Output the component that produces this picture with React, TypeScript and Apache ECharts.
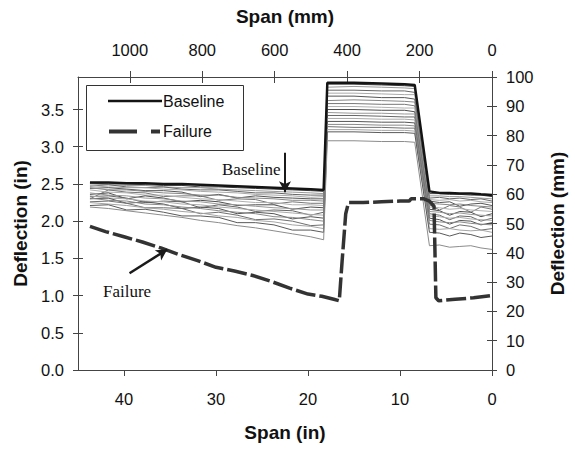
import React, { useEffect, useRef } from "react";
import * as echarts from "echarts";

// Span positions (inches) shared by the baseline and the individual runs
const X_IN = [43.7, 41.7, 39.7, 37.7, 35.7, 33.7, 31.7, 29.7, 27.7, 25.7, 23.7, 21.7, 19.7, 18.3, 17.9, 15, 12, 9.5, 8.4, 6.8, 5.7, 4.6, 3.5, 2.3, 1.2, 0];

// Deflection (inches)
const BASELINE = [2.52, 2.52, 2.51, 2.51, 2.50, 2.50, 2.49, 2.48, 2.47, 2.46, 2.45, 2.44, 2.43, 2.42, 3.86, 3.86, 3.85, 3.84, 3.83, 2.40, 2.38, 2.38, 2.37, 2.37, 2.36, 2.35];

const RUN_01 = [2.51, 2.50, 2.50, 2.49, 2.48, 2.48, 2.46, 2.46, 2.45, 2.44, 2.43, 2.42, 2.41, 2.40, 3.84, 3.84, 3.83, 3.82, 3.81, 2.37, 2.37, 2.36, 2.36, 2.35, 2.35, 2.33];
const RUN_02 = [2.50, 2.49, 2.48, 2.48, 2.46, 2.45, 2.45, 2.43, 2.42, 2.41, 2.40, 2.39, 2.38, 2.37, 3.80, 3.81, 3.80, 3.79, 3.78, 2.34, 2.34, 2.33, 2.33, 2.32, 2.31, 2.30];
const RUN_03 = [2.47, 2.49, 2.46, 2.45, 2.46, 2.43, 2.42, 2.42, 2.40, 2.38, 2.38, 2.36, 2.35, 2.35, 3.76, 3.76, 3.75, 3.75, 3.73, 2.31, 2.32, 2.30, 2.31, 2.29, 2.30, 2.27];
const RUN_04 = [2.48, 2.46, 2.45, 2.45, 2.43, 2.42, 2.40, 2.39, 2.38, 2.36, 2.35, 2.34, 2.32, 2.33, 3.72, 3.72, 3.71, 3.70, 3.70, 2.29, 2.28, 2.29, 2.27, 2.28, 2.26, 2.25];
const RUN_05 = [2.44, 2.45, 2.43, 2.41, 2.41, 2.39, 2.33, 2.36, 2.31, 2.34, 2.32, 2.31, 2.30, 2.30, 3.68, 3.68, 3.66, 3.66, 3.64, 2.27, 2.25, 2.26, 2.20, 2.23, 2.24, 2.21];
const RUN_06 = [2.45, 2.42, 2.42, 2.40, 2.38, 2.37, 2.35, 2.35, 2.32, 2.31, 2.30, 2.28, 2.28, 2.27, 3.62, 3.63, 3.62, 3.61, 3.60, 2.24, 2.23, 2.22, 2.23, 2.21, 2.20, 2.19];
const RUN_07 = [2.30, 2.42, 2.39, 2.38, 2.33, 2.34, 2.34, 2.28, 2.30, 2.29, 2.23, 2.26, 2.24, 2.24, 3.58, 3.58, 3.57, 3.57, 3.55, 2.22, 2.15, 2.21, 2.19, 2.12, 2.19, 2.16];
const RUN_08 = [2.42, 2.39, 2.38, 2.35, 2.35, 2.32, 2.30, 2.29, 2.27, 2.25, 2.25, 2.22, 2.22, 2.21, 3.54, 3.54, 3.53, 3.52, 3.52, 2.19, 2.18, 2.16, 2.17, 2.15, 2.14, 2.13];
const RUN_09 = [2.36, 2.38, 2.30, 2.34, 2.31, 2.26, 2.28, 2.26, 2.21, 2.22, 2.22, 2.16, 2.19, 2.18, 3.50, 3.50, 3.49, 3.49, 3.47, 2.16, 2.14, 2.08, 2.13, 2.12, 2.06, 2.10];
const RUN_10 = [2.38, 2.35, 2.34, 2.31, 2.30, 2.27, 2.26, 2.23, 2.22, 2.20, 2.18, 2.17, 2.15, 2.15, 3.46, 3.45, 3.45, 3.44, 3.44, 2.13, 2.12, 2.10, 2.11, 2.09, 2.08, 2.07];
const RUN_11 = [2.33, 2.34, 2.31, 2.25, 2.27, 2.26, 2.18, 2.22, 2.19, 2.13, 2.15, 2.14, 2.08, 2.12, 3.42, 3.42, 3.41, 3.40, 3.40, 2.10, 2.08, 2.02, 2.07, 2.06, 2.00, 2.04];
const RUN_12 = [2.34, 2.31, 2.30, 2.27, 2.26, 2.23, 2.22, 2.19, 2.17, 2.15, 2.13, 2.11, 2.09, 2.08, 3.38, 3.38, 3.37, 3.37, 3.36, 2.07, 2.06, 2.04, 2.05, 2.03, 2.02, 2.01];
const RUN_13 = [2.30, 2.31, 2.24, 2.26, 2.23, 2.17, 2.19, 2.17, 2.10, 2.12, 2.10, 2.03, 2.06, 2.04, 3.34, 3.34, 3.33, 3.33, 3.32, 2.04, 2.02, 1.96, 2.01, 2.00, 1.95, 1.98];
const RUN_14 = [2.31, 2.28, 2.27, 2.23, 2.22, 2.19, 2.17, 2.14, 2.12, 2.10, 2.06, 2.05, 2.02, 2.00, 3.30, 3.30, 3.29, 3.29, 3.28, 2.01, 1.99, 1.98, 1.99, 1.97, 1.96, 1.95];
const RUN_15 = [2.26, 2.27, 2.24, 2.18, 2.18, 2.17, 2.10, 2.12, 2.08, 2.02, 2.03, 2.00, 1.94, 1.95, 3.27, 3.26, 3.26, 3.25, 3.25, 1.96, 1.95, 1.90, 1.95, 1.93, 1.88, 1.90];
const RUN_16 = [2.25, 2.23, 2.21, 2.18, 2.16, 2.13, 2.11, 2.07, 2.05, 2.01, 1.99, 1.95, 1.93, 1.90, 3.23, 3.23, 3.22, 3.22, 3.21, 1.90, 1.89, 1.90, 1.88, 1.87, 1.88, 1.85];
const RUN_17 = [2.21, 2.22, 2.15, 2.16, 2.12, 2.07, 2.07, 2.05, 1.98, 1.98, 1.95, 1.88, 1.88, 1.85, 3.20, 3.20, 3.19, 3.19, 3.18, 1.85, 1.84, 1.80, 1.84, 1.82, 1.78, 1.80];
const RUN_18 = [2.19, 2.17, 2.14, 2.11, 2.08, 2.05, 2.01, 1.98, 1.94, 1.91, 1.87, 1.83, 1.79, 1.75, 3.08, 3.08, 3.07, 3.07, 3.06, 1.67, 1.68, 1.65, 1.66, 1.67, 1.64, 1.62];

const RUNS = [RUN_01, RUN_02, RUN_03, RUN_04, RUN_05, RUN_06, RUN_07, RUN_08, RUN_09, RUN_10, RUN_11, RUN_12, RUN_13, RUN_14, RUN_15, RUN_16, RUN_17, RUN_18];
const RUN_COLORS = ["#444", "#999", "#666", "#aaa", "#555", "#888", "#777", "#b0b0b0", "#4d4d4d", "#999", "#666", "#aaa", "#555", "#8a8a8a", "#707070", "#a5a5a5", "#5a5a5a", "#8c8c8c"];

// Failure run
const FAIL_X = [43.7, 42, 40, 38, 36, 34, 32, 30, 28, 26, 24, 22, 20, 18.5, 17.2, 16.6, 16.3, 15.9, 15.6, 14, 12, 10, 9, 8.8, 7.4, 6.8, 6.3, 6.1, 5.8, 4, 2, 0];
const FAIL_Y = [1.93, 1.86, 1.79, 1.72, 1.64, 1.55, 1.47, 1.38, 1.33, 1.27, 1.19, 1.10, 1.02, 0.99, 0.95, 0.93, 1.45, 2.10, 2.25, 2.25, 2.26, 2.27, 2.27, 2.30, 2.30, 2.27, 2.20, 0.97, 0.93, 0.95, 0.97, 1.00];

const Y_MAX_IN = 100 / 25.4;
const X_MAX_IN = 45;

const FONT = '"Liberation Sans", Arial, sans-serif';
const SERIF = '"Liberation Serif", "Times New Roman", serif';

export default function App() {
  const ref = useRef<HTMLDivElement>(null);
  useEffect(() => {
    const chart = echarts.init(ref.current!, null, { renderer: "svg" });
    const axisLine = { show: true, onZero: false, lineStyle: { color: "#444", width: 1 } };
    const noLine = { show: false, onZero: false };
    const tickStyle = { color: "#444", width: 1 };
    const labelStyle = { color: "#111", fontSize: 16.5, fontFamily: FONT };
    const nameStyle = { color: "#111", fontSize: 19, fontWeight: "bold" as const, fontFamily: FONT };

    const series: any[] = RUNS.map((run, i) => ({
      type: "line",
      name: "run" + (i + 1),
      data: X_IN.map((x, j) => [x, run[j]]),
      symbol: "none",
      silent: true,
      lineStyle: { color: RUN_COLORS[i], width: 1 },
      z: 2,
    }));
    series.push({
      type: "line",
      name: "Baseline",
      data: X_IN.map((x, j) => [x, BASELINE[j]]),
      symbol: "none",
      silent: true,
      lineStyle: { color: "#141414", width: 2.5 },
      z: 3,
      markLine: {
        silent: true,
        symbol: ["none", "arrow"],
        symbolSize: [9, 11],
        label: { show: false },
        lineStyle: { color: "#1a1a1a", width: 2, type: "solid" },
        data: [[{ coord: [22.5, 2.92] }, { coord: [22.5, 2.39] }]],
      },
    });
    series.push({
      type: "line",
      name: "Failure",
      data: FAIL_X.map((x, j) => [x, FAIL_Y[j]]),
      symbol: "none",
      silent: true,
      lineStyle: { color: "#333", width: 3.5, type: [20, 4] },
      z: 4,
      markLine: {
        silent: true,
        symbol: ["none", "arrow"],
        symbolSize: [9, 11],
        label: { show: false },
        lineStyle: { color: "#1a1a1a", width: 2.5, type: "solid" },
        data: [[{ coord: [39.4, 1.3] }, { coord: [35.3, 1.62] }]],
      },
    });

    chart.setOption({
      animation: false,
      backgroundColor: "#fff",
      grid: { left: 78, right: 74, top: 77, bottom: 79, containLabel: false },
      xAxis: [
        {
          type: "value", position: "bottom", min: 0, max: X_MAX_IN, interval: 10, inverse: true,
          axisLine, axisTick: { show: true, inside: false, length: 6, lineStyle: tickStyle },
          axisLabel: { ...labelStyle, margin: 20, showMaxLabel: false },
          splitLine: { show: false },
          name: "Span (in)", nameLocation: "middle", nameGap: 53, nameTextStyle: nameStyle,
        },
        {
          type: "value", position: "top", min: 0, max: X_MAX_IN * 25.4, interval: 200, inverse: true,
          axisLine, axisTick: { show: true, inside: false, length: 6, lineStyle: tickStyle },
          axisLabel: { ...labelStyle, margin: 19, showMaxLabel: false, formatter: (v: number) => String(v) },
          splitLine: { show: false },
          name: "Span (mm)", nameLocation: "middle", nameGap: 51, nameTextStyle: nameStyle,
        },
        {
          type: "value", position: "top", min: 0, max: X_MAX_IN * 25.4, interval: 200, inverse: true,
          axisLine: noLine, axisTick: { show: true, inside: true, length: 6, lineStyle: tickStyle },
          axisLabel: { show: false, showMaxLabel: false }, splitLine: { show: false },
        },
      ],
      yAxis: [
        {
          type: "value", position: "left", min: 0, max: Y_MAX_IN, interval: 0.5,
          axisLine, axisTick: { show: true, inside: false, length: 5, lineStyle: tickStyle },
          axisLabel: { ...labelStyle, margin: 14, showMaxLabel: false, formatter: (v: number) => v.toFixed(1) },
          splitLine: { show: false },
          name: "Deflection (in)", nameLocation: "middle", nameGap: 48, nameRotate: 90, nameTextStyle: nameStyle,
        },
        {
          type: "value", position: "right", min: 0, max: 100, interval: 10,
          axisLine, axisTick: { show: true, inside: false, length: 5, lineStyle: tickStyle },
          axisLabel: { ...labelStyle, margin: 14 },
          splitLine: { show: false },
          name: "Deflection (mm)", nameLocation: "middle", nameGap: 56, nameRotate: 90, nameTextStyle: nameStyle,
        },
        {
          type: "value", position: "left", min: 0, max: Y_MAX_IN, interval: 0.5,
          axisLine: noLine, axisTick: { show: true, inside: true, length: 5, lineStyle: tickStyle },
          axisLabel: { show: false }, splitLine: { show: false },
        },
        {
          type: "value", position: "right", min: 0, max: 100, interval: 10,
          axisLine: noLine, axisTick: { show: true, inside: true, length: 5, lineStyle: tickStyle },
          axisLabel: { show: false }, splitLine: { show: false },
        },
      ],
      series,
      graphic: [
        {
          type: "rect", z: 100,
          shape: { x: 86.5, y: 85.5, width: 157, height: 65 },
          style: { fill: "#fff", stroke: "#333", lineWidth: 1 },
        },
        {
          type: "line", z: 101,
          shape: { x1: 108, y1: 101, x2: 162, y2: 101 },
          style: { stroke: "#141414", lineWidth: 2.5 },
        },
        {
          type: "text", z: 101, x: 163, y: 101,
          style: { text: "Baseline", fill: "#111", fontSize: 16, fontFamily: FONT, verticalAlign: "middle", align: "left" },
        },
        {
          type: "line", z: 101,
          shape: { x1: 109, y1: 131.5, x2: 137, y2: 131.5 },
          style: { stroke: "#333", lineWidth: 4 },
        },
        {
          type: "line", z: 101,
          shape: { x1: 151, y1: 131.5, x2: 160, y2: 131.5 },
          style: { stroke: "#333", lineWidth: 4 },
        },
        {
          type: "text", z: 101, x: 163, y: 131.5,
          style: { text: "Failure", fill: "#111", fontSize: 16, fontFamily: FONT, verticalAlign: "middle", align: "left" },
        },
        {
          type: "text", z: 101, x: 222, y: 169,
          style: { text: "Baseline", fill: "#111", fontSize: 17, fontFamily: SERIF, verticalAlign: "middle", align: "left" },
        },
        {
          type: "text", z: 101, x: 103, y: 291,
          style: { text: "Failure", fill: "#111", fontSize: 17, fontFamily: SERIF, verticalAlign: "middle", align: "left" },
        },
      ],
    });
    return () => chart.dispose();
  }, []);
  return (
    <div
      ref={ref}
      style={{ position: "fixed", left: 0, top: 0, width: 575, height: 449, background: "#fff" }}
    />
  );
}
